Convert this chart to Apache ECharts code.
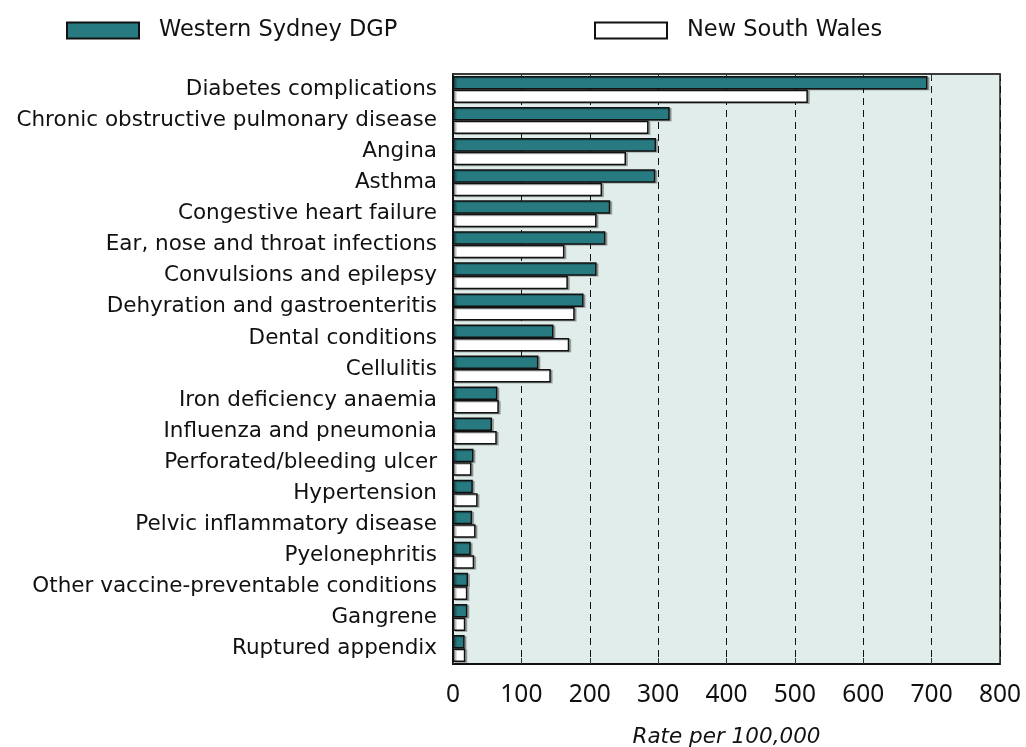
<!DOCTYPE html>
<html>
<head>
<meta charset="utf-8">
<script src="https://cdn.jsdelivr.net/npm/echarts@6/dist/echarts.min.js"></script>
<style>
  html, body { margin: 0; padding: 0; background: #fff; }
  #main { width: 1026px; height: 747px; }
</style>
</head>
<body>
<div id="main"></div>
<script>
var categories = [
    'Diabetes complications',
    'Chronic obstructive pulmonary disease',
    'Angina',
    'Asthma',
    'Congestive heart failure',
    'Ear, nose and throat infections',
    'Convulsions and epilepsy',
    'Dehyration and gastroenteritis',
    'Dental conditions',
    'Cellulitis',
    'Iron deficiency anaemia',
    'Influenza and pneumonia',
    'Perforated/bleeding ulcer',
    'Hypertension',
    'Pelvic inflammatory disease',
    'Pyelonephritis',
    'Other vaccine-preventable conditions',
    'Gangrene',
    'Ruptured appendix'
];
var westernSydney = [694, 317, 297, 296, 230, 223, 210, 191, 147, 125, 65, 57, 30, 29, 28, 26, 22, 21, 17];
var newSouthWales = [519, 286, 253, 218, 210, 163, 168, 178, 170, 143, 67, 64, 27, 36, 33, 31, 21, 18, 18];
var xTicks = { min: 0, max: 800, interval: 100 };

var labelFont = 'DejaVu Sans';
var font = 'Noto Sans';
var teal = '#277a80';

window.onload = function () {
    var myChart = echarts.init(document.getElementById('main'));

    var barStyle = function (fill) {
        return {
            color: fill,
            borderColor: '#111',
            borderWidth: 1.5,
            shadowColor: 'rgba(0,0,0,0.25)',
            shadowOffsetX: 2,
            shadowOffsetY: 1,
            shadowBlur: 0
        };
    };

    var legendBase = function (name, left, fill) {
        return {
            data: [{ name: name, icon: 'rect', itemStyle: { color: fill, borderColor: '#111', borderWidth: 2 } }],
            left: left, top: 14,
            itemWidth: 72, itemHeight: 16,
            textStyle: { fontFamily: labelFont, fontSize: 22.5, color: '#111', padding: [0, 0, 0, 15] }
        };
    };

    var option = {
        animation: false,
        textStyle: { fontFamily: font },
        legend: [
            legendBase('Western Sydney DGP', 61, teal),
            legendBase('New South Wales', 589, '#ffffff')
        ],
        grid: {
            left: 453, right: 26, top: 74, bottom: 83,
            outerBoundsMode: 'none',
            containLabel: false,
            show: true,
            backgroundColor: '#e1edeb',
            borderColor: '#222',
            borderWidth: 1.5
        },
        xAxis: [
            {
                type: 'value',
                min: xTicks.min, max: xTicks.max, interval: xTicks.interval,
                position: 'bottom',
                axisLine: { show: true, lineStyle: { color: '#111', width: 2 } },
                axisTick: { show: true, inside: true, length: 6, lineStyle: { color: '#333' } },
                axisLabel: { fontSize: 24.5, color: '#111', margin: 19, fontFamily: font },
                splitLine: { show: true, lineStyle: { color: '#111', type: [7, 5], width: 1 } },
                name: 'Rate per 100,000',
                nameLocation: 'middle',
                nameGap: 62,
                nameTextStyle: { fontSize: 21.5, fontStyle: 'italic', color: '#111', fontFamily: labelFont }
            },
            {
                type: 'value',
                min: xTicks.min, max: xTicks.max, interval: xTicks.interval,
                position: 'top',
                axisLine: { show: true, lineStyle: { color: '#333', width: 1.5 } },
                axisTick: { show: true, inside: true, length: 5, lineStyle: { color: '#333' } },
                axisLabel: { show: false },
                splitLine: { show: false }
            }
        ],
        yAxis: {
            type: 'category',
            data: categories,
            inverse: true,
            axisLine: { show: true, lineStyle: { color: '#111', width: 2 } },
            axisTick: { show: false },
            axisLabel: { fontSize: 21.5, color: '#111', margin: 16, fontFamily: labelFont }
        },
        series: [
            {
                name: 'Western Sydney DGP',
                type: 'bar',
                data: westernSydney,
                barGap: '0%',
                barCategoryGap: '13%',
                itemStyle: barStyle(teal)
            },
            {
                name: 'New South Wales',
                type: 'bar',
                data: newSouthWales,
                itemStyle: barStyle('#ffffff')
            }
        ]
    };

    myChart.setOption(option);
};
</script>
</body>
</html>
